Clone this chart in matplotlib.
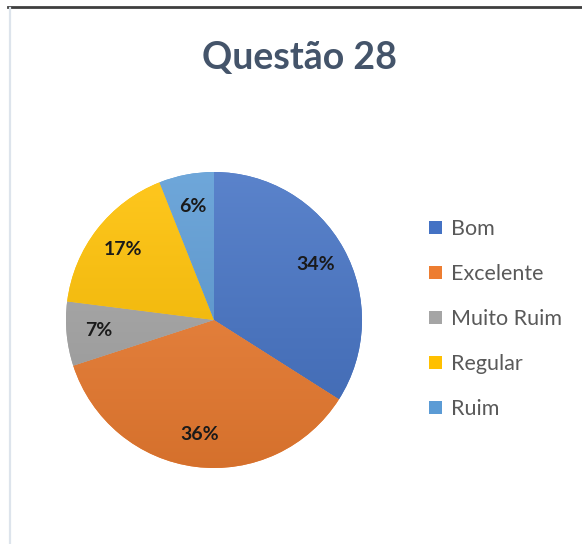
import numpy as np
import matplotlib
matplotlib.use('Agg')
import matplotlib.pyplot as plt
from matplotlib.colors import to_rgb
from matplotlib.lines import Line2D
from matplotlib.patches import Patch

plt.rcParams['font.family'] = ['Lato', 'DejaVu Sans']

# Dados
categorias = ['Bom', 'Excelente', 'Muito Ruim', 'Regular', 'Ruim']
percentuais = [34, 36, 7, 17, 6]
cores = ['#4472C4', '#ED7D31', '#A5A5A5', '#FFC000', '#5B9BD5']
titulo = 'Questão 28'

W, H = 582, 544
fig = plt.figure(figsize=(W / 100, H / 100), dpi=100)

# Moldura: linha escura no topo e borda clara à esquerda
fig.add_artist(Line2D([8 / W, 1], [1 - 6.5 / H, 1 - 6.5 / H], color='#3f3f3f', lw=2.0,
                      transform=fig.transFigure))
fig.add_artist(Line2D([10 / W, 10 / W], [0, 1 - 8 / H], color='#dde4ec', lw=1.6,
                      transform=fig.transFigure))

fig.text(300 / W, 1 - 58 / H, titulo, ha='center', va='center', fontsize=27,
         fontweight='bold', color='#44546A')

cx, cy, r = 214, 320, 148
ax = fig.add_axes([(cx - r) / W, (H - cy - r) / H, 2 * r / W, 2 * r / H])

wedges, textos, pcts = ax.pie(percentuais, colors=cores, startangle=90, counterclock=False,
                              autopct='%1.0f%%', pctdistance=0.78,
                              wedgeprops=dict(linewidth=0),
                              textprops=dict(fontsize=14, fontweight='bold', color='#1a1a1a'))
ax.set_xlim(-1, 1)
ax.set_ylim(-1, 1)
ax.set_aspect('equal')

# Degradê vertical em cada fatia (mais claro em cima, mais escuro embaixo)
t = np.linspace(0, 1, 256)[:, None]
for w, c in zip(wedges, cores):
    base = np.array(to_rgb(c))
    claro = base + (1 - base) * 0.12
    escuro = base * 0.90
    grad = claro[None, None, :] * (1 - t[..., None]) + escuro[None, None, :] * t[..., None]
    grad = np.repeat(grad, 2, axis=1)
    im = ax.imshow(grad, extent=(-1, 1, -1, 1), origin='upper', zorder=w.get_zorder() + 0.1,
                   interpolation='bilinear')
    im.set_clip_path(w)
for p in pcts:
    p.set_zorder(5)

handles = [Patch(facecolor=c, edgecolor='none') for c in cores]
fig.legend(handles, categorias, loc='center left', bbox_to_anchor=(429 / W, 1 - 319 / H),
           frameon=False, fontsize=15.5, labelcolor='#595959', handlelength=0.6,
           handleheight=0.6, handletextpad=0.4, labelspacing=1.16, borderpad=0,
           borderaxespad=0)

fig.savefig('out.png', dpi=100, facecolor='white')
